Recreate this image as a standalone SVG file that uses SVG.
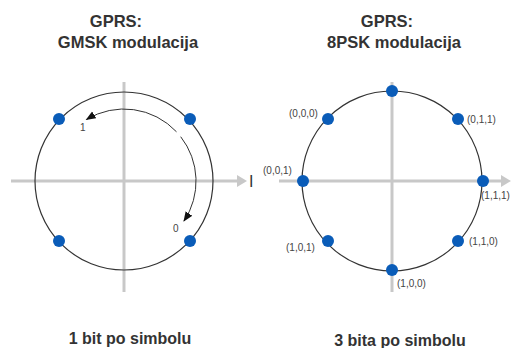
<svg xmlns="http://www.w3.org/2000/svg" width="512" height="348" viewBox="0 0 512 348">
<style>
.title{font-family:"Liberation Sans",Arial,sans-serif;font-weight:bold;font-size:16.5px;fill:#333;text-anchor:middle}
.foot{font-family:"Liberation Sans",Arial,sans-serif;font-weight:bold;font-size:16px;fill:#333;text-anchor:middle}
.lbl{font-family:"Liberation Sans",Arial,sans-serif;font-size:10px;fill:#444}
.axis{stroke:#c8c8c8;stroke-width:3;fill:none}
.ring{stroke:#333;stroke-width:1.2;fill:none}
.dot{fill:#0a5cb8}
.arc{stroke:#333;stroke-width:1;fill:none}
</style>
<defs>
<marker id="ah" markerWidth="10" markerHeight="10" refX="9" refY="5" orient="auto" markerUnits="userSpaceOnUse">
<path d="M0,1 L10,5 L0,9 Z" fill="#111"/>
</marker>
</defs>
<rect width="512" height="348" fill="#fff"/>
<g id="left-title">
<text class="title" x="116" y="27">GPRS:</text>
<text class="title" x="128" y="48">GMSK modulacija</text>
</g>
<g id="right-title">
<text class="title" x="387" y="27">GPRS:</text>
<text class="title" x="394" y="48">8PSK modulacija</text>
</g>
<g id="left-axes">
<line class="axis" x1="11" y1="181" x2="238" y2="181"/>
<path d="M237,175 L247,181 L237,187 Z" fill="#c8c8c8"/>
<line class="axis" x1="124" y1="82" x2="124" y2="292"/>
<text x="249" y="187" font-family="Liberation Sans,Arial,sans-serif" font-size="16" fill="#333">I</text>
</g>
<g id="left-circle">
<circle class="ring" cx="124" cy="181" r="89"/>
</g>
<g id="connectors">
<path class="arc" d="M176.5,131.8 A72,72 0 0 0 86.5,119.5" marker-end="url(#ah)"/>
<path class="arc" d="M180.7,136.7 A72,72 0 0 1 184,221" marker-end="url(#ah)"/>
</g>
<g id="left-points">
<circle class="dot" cx="59" cy="119" r="6"/>
<circle class="dot" cx="190" cy="119" r="6"/>
<circle class="dot" cx="59" cy="241" r="6"/>
<circle class="dot" cx="190" cy="241" r="6"/>
<text class="lbl" x="80" y="131">1</text>
<text class="lbl" x="173" y="232">0</text>
</g>
<g id="right-axes">
<line class="axis" x1="279" y1="181" x2="502" y2="181"/>
<path d="M501,175 L511,181 L501,187 Z" fill="#c8c8c8"/>
<line class="axis" x1="392" y1="82" x2="392" y2="292"/>
</g>
<g id="right-circle">
<circle class="ring" cx="392" cy="181" r="90"/>
</g>
<g id="right-points">
<circle class="dot" cx="392" cy="91" r="6"/>
<circle class="dot" cx="328" cy="119" r="6"/>
<circle class="dot" cx="458" cy="119" r="6"/>
<circle class="dot" cx="303" cy="181" r="6"/>
<circle class="dot" cx="483" cy="181" r="6"/>
<circle class="dot" cx="328" cy="241" r="6"/>
<circle class="dot" cx="458" cy="241" r="6"/>
<circle class="dot" cx="392" cy="270" r="6"/>
<text class="lbl" x="289" y="117">(0,0,0)</text>
<text class="lbl" x="467" y="123">(0,1,1)</text>
<text class="lbl" x="263" y="174">(0,0,1)</text>
<text class="lbl" x="481" y="199">(1,1,1)</text>
<text class="lbl" x="286" y="251">(1,0,1)</text>
<text class="lbl" x="469" y="245">(1,1,0)</text>
<text class="lbl" x="397" y="287">(1,0,0)</text>
</g>
<g id="footers">
<text class="foot" x="130" y="344">1 bit po simbolu</text>
<text class="foot" x="400" y="346">3 bita po simbolu</text>
</g>
</svg>
